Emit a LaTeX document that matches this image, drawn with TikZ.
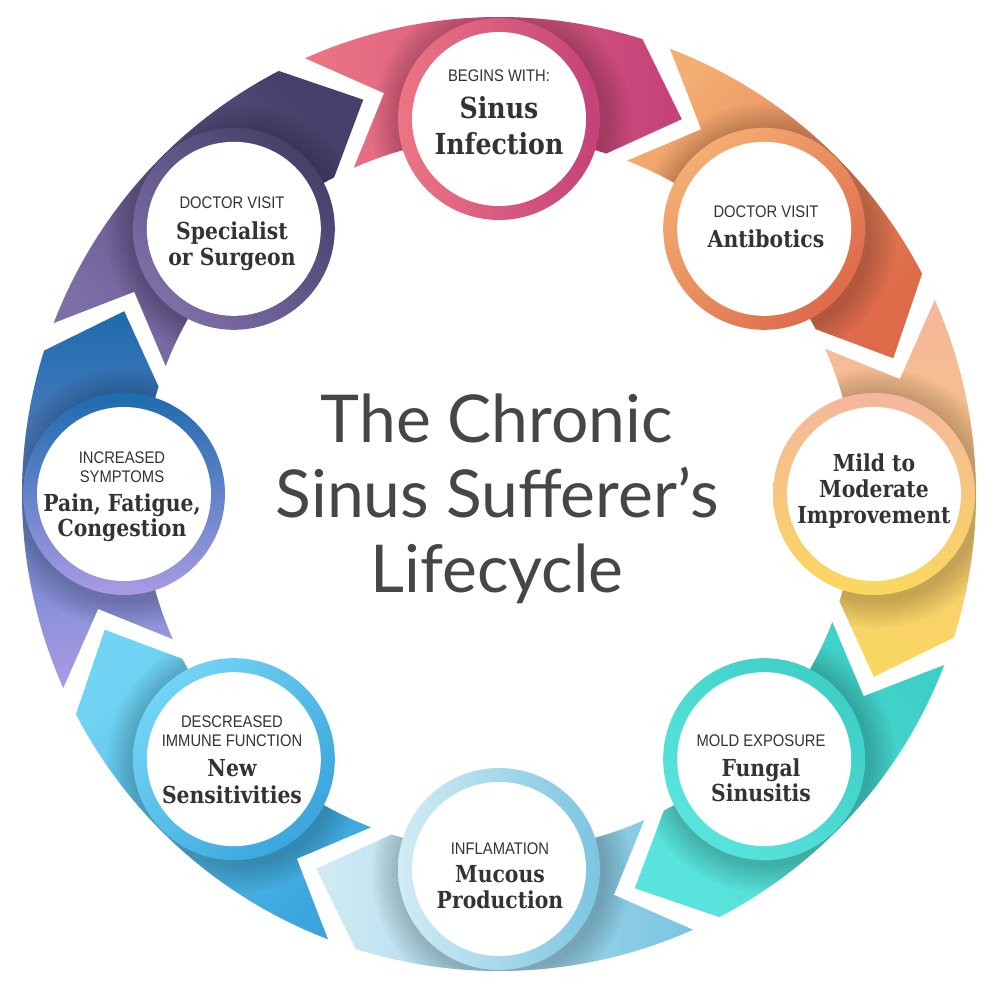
\documentclass[tikz,border=0pt]{standalone}
\usepackage{fontspec}
\newfontfamily\capfont{Liberation Sans}[FakeStretch=0.88]
\newfontfamily\slabfont{DejaVu Serif}[FakeStretch=0.87]
\newfontfamily\titlefont{Lato}
\definecolor{txt}{HTML}{333333}
\definecolor{ttlc}{HTML}{464646}
\definecolor{s0t}{HTML}{EC7584}\definecolor{s0h}{HTML}{C4417A}
\definecolor{s1t}{HTML}{F3AE72}\definecolor{s1h}{HTML}{DE6A4A}
\definecolor{s2t}{HTML}{F5B69E}\definecolor{s2h}{HTML}{FAD85E}
\definecolor{s3t}{HTML}{3ECFC7}\definecolor{s3h}{HTML}{58E4DD}
\definecolor{s4t}{HTML}{7BC5E1}\definecolor{s4h}{HTML}{D2EBF4}
\definecolor{s5t}{HTML}{3BA5DD}\definecolor{s5h}{HTML}{72D4F4}
\definecolor{s6t}{HTML}{A99BE4}\definecolor{s6h}{HTML}{1D6BAD}
\definecolor{s7t}{HTML}{7E6EA8}\definecolor{s7h}{HTML}{45406A}
\begin{document}
\begin{tikzpicture}[x=0.5pt,y=0.5pt,
  smallcap/.style={font=\capfont\fontsize{8.4}{9.5}\selectfont, text=txt, anchor=base, inner sep=0pt},
  ttl/.style={font=\slabfont\bfseries\fontsize{11.7}{13}\selectfont, text=txt, anchor=base, inner sep=0pt},
  bigttl/.style={font=\slabfont\bfseries\fontsize{14.5}{18}\selectfont, text=txt, anchor=base, inner sep=0pt},
  disc/.style={circle, fill=white, minimum size=87pt, inner sep=0pt},
  heading/.style={font=\titlefont\fontsize{33}{37}\selectfont, text=ttlc, anchor=base, inner sep=0pt}]
\useasboundingbox (-499,-491) rectangle (501,494);
\fill[white] (-499,-491) rectangle (501,494);
% ring segments
\foreach \a/\ct/\ch in {90/s0t/s0h,45/s1t/s1h,0/s2t/s2h,-45/s3t/s3h,-90/s4t/s4h,-135/s5t/s5h,180/s6t/s6h,135/s7t/s7h}{
  \path[left color=\ct, right color=\ch, shading angle=\a]
    (\a+24:238.5pt) arc[start angle=\a+24, end angle=\a-17.5, radius=238.5pt]
    -- (\a-26:208.5pt) -- (\a-17.5:178.5pt)
    arc[start angle=\a-17.5, end angle=\a+24, radius=178.5pt]
    -- (\a+16:208.5pt) -- cycle;
}
% circles
\foreach \a/\ct/\ch [count=\i from 0] in {90/s0t/s0h,45/s1t/s1h,0/s2t/s2h,-45/s3t/s3h,-90/s4t/s4h,-135/s5t/s5h,180/s6t/s6h,135/s7t/s7h}{
  \begin{scope}
    \clip (\a+24:238.5pt) arc[start angle=\a+24, end angle=\a-17.5, radius=238.5pt]
    -- (\a-26:208.5pt) -- (\a-17.5:178.5pt)
    arc[start angle=\a-17.5, end angle=\a+24, radius=178.5pt]
    -- (\a+16:208.5pt) -- cycle;
    \foreach \r in {1,...,9}{
      \fill[black, opacity=0.022, xshift=1.5pt, yshift=-2pt] (\a:375) circle[radius=50.5pt+\r*1.6pt];
    }
  \end{scope}
  \path[left color=\ct, right color=\ch, shading angle=\a] (\a:375) circle[radius=50.5pt];
  \node[disc] (c\i) at (\a:375) {};
}
% title
\node[heading] (title1) at (-2,52) {The Chronic};
\node[heading] (title2) at (-2,-23) {Sinus Sufferer’s};
\node[heading] (title3) at (-2,-98) {Lifecycle};
% labels
\node[smallcap] (l0a) at (0,412) {BEGINS WITH:};
\node[bigttl] (l0b) at (0,375) {Sinus};
\node[bigttl] (l0c) at (0,339) {Infection};
\node[smallcap] (l1a) at (267,276) {DOCTOR VISIT};
\node[ttl] (l1b) at (267,246) {Antibotics};
\node[ttl] (l2a) at (375,23) {Mild to};
\node[ttl] (l2b) at (375,-3) {Moderate};
\node[ttl] (l2c) at (375,-29) {Improvement};
\node[smallcap] (l3a) at (262,-252) {MOLD EXPOSURE};
\node[ttl] (l3b) at (262,-282) {Fungal};
\node[ttl] (l3c) at (262,-307) {Sinusitis};
\node[smallcap] (l4a) at (1,-360) {INFLAMATION};
\node[ttl] (l4b) at (1,-388) {Mucous};
\node[ttl] (l4c) at (1,-414) {Production};
\node[smallcap] (l5a) at (-267,-233) {DESCREASED};
\node[smallcap] (l5b) at (-267,-252) {IMMUNE FUNCTION};
\node[ttl] (l5c) at (-267,-282) {New};
\node[ttl] (l5d) at (-267,-309) {Sensitivities};
\node[smallcap] (l6a) at (-377,31) {INCREASED};
\node[smallcap] (l6b) at (-377,12) {SYMPTOMS};
\node[ttl] (l6c) at (-377,-17) {Pain, Fatigue,};
\node[ttl] (l6d) at (-377,-42) {Congestion};
\node[smallcap] (l7a) at (-267,285) {DOCTOR VISIT};
\node[ttl] (l7b) at (-267,254) {Specialist};
\node[ttl] (l7c) at (-267,228) {or Surgeon};
\end{tikzpicture}
\end{document}
